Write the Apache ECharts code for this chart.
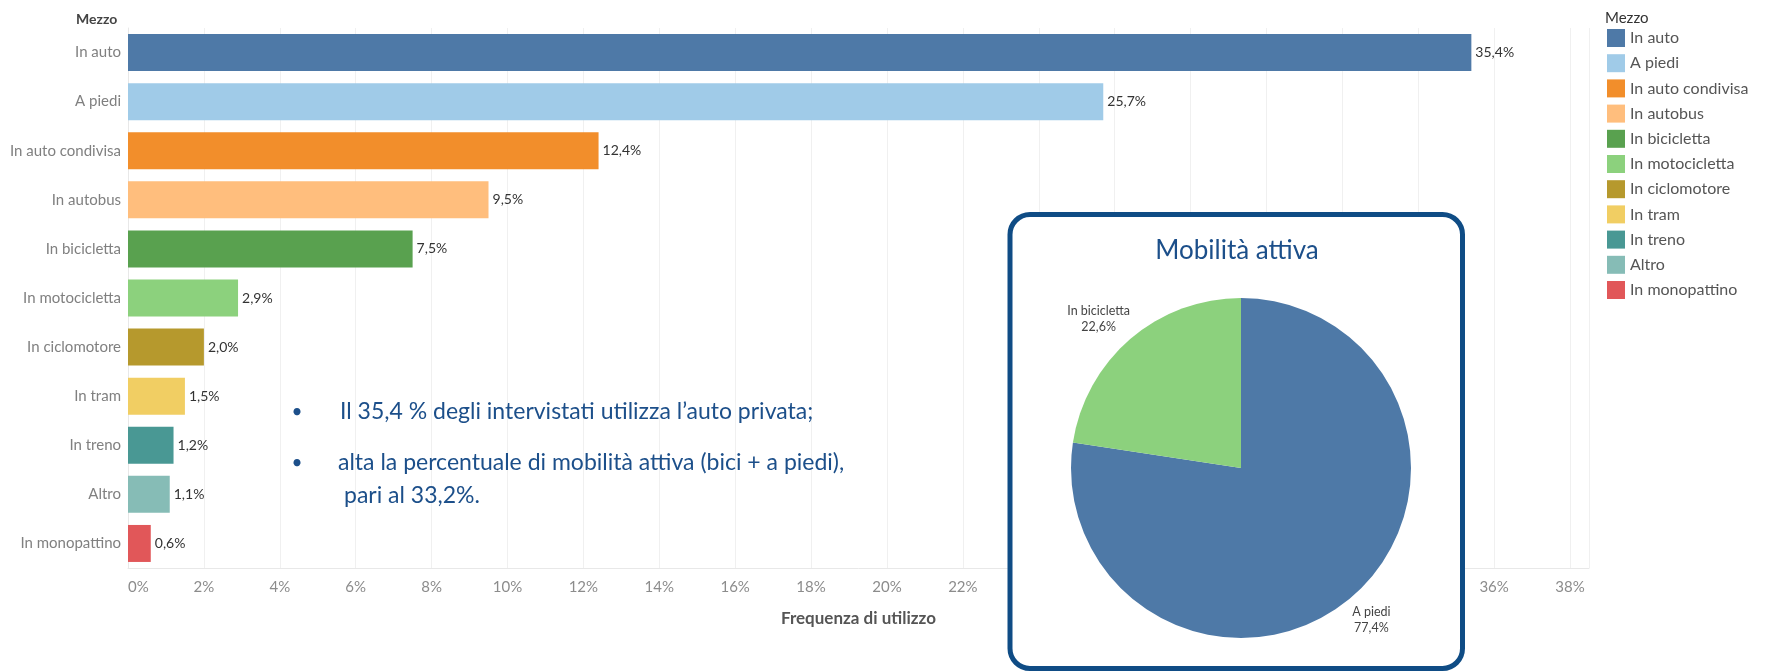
<!DOCTYPE html>
<html>
<head>
<meta charset="utf-8">
<script src="https://cdn.jsdelivr.net/npm/echarts@6/dist/echarts.min.js"></script>
<style>
html,body{margin:0;padding:0;background:#fff;}
#chart{width:1767px;height:672px;}
</style>
</head>
<body>
<div id="chart"></div>
<script>
// ---- data ----
const categories = ['In auto','A piedi','In auto condivisa','In autobus','In bicicletta','In motocicletta','In ciclomotore','In tram','In treno','Altro','In monopattino'];
const values = [35.4, 25.7, 12.4, 9.5, 7.5, 2.9, 2.0, 1.5, 1.2, 1.1, 0.6];
const barColors = ['#4e79a7','#a0cbe8','#f28e2b','#ffbe7d','#59a14f','#8cd17d','#b6992d','#f1ce63','#499894','#86bcb6','#e15759'];
const pieNames = ['A piedi','In bicicletta'];
const pieValues = [77.4, 22.6];
const pieColors = ['#4e79a7','#8cd17d'];
const bulletLines = [
  'Il 35,4 % degli intervistati utilizza l\u2019auto privata;',
  'alta la percentuale di mobilit\u00e0 attiva (bici + a piedi),',
  'pari al 33,2%.'
];

const fmt = v => v.toFixed(1).replace('.', ',') + '%';
const FONT = 'Lato, "Noto Sans", sans-serif';
const NAVY = '#1c4f8a';
const BFONT = '23px ' + FONT;

const barSeries = categories.map((name, i) => ({
  name: name,
  type: 'bar',
  stack: 'total',
  barWidth: 37,
  itemStyle: { color: barColors[i] },
  label: {
    show: true, position: 'right', distance: 4,
    color: '#333', fontSize: 14, fontFamily: FONT,
    formatter: p => (p.value == null ? '' : fmt(p.value))
  },
  emphasis: { disabled: true },
  data: categories.map((c, j) => (j === i ? values[i] : null))
}));

const chart = echarts.init(document.getElementById('chart'), null, { renderer: 'canvas' });
chart.setOption({
  animation: false,
  textStyle: { fontFamily: FONT },
  title: [
    { text: 'Mezzo', left: 76, top: 12, padding: 0, textStyle: { fontSize: 14, fontWeight: 'bold', color: '#444', fontFamily: FONT } },
    { text: 'Mezzo', left: 1605, top: 11, padding: 0, textStyle: { fontSize: 15, fontWeight: 'normal', color: '#333', fontFamily: FONT } },
    { text: 'Mobilit\u00e0 attiva', left: 1237, top: 238, padding: 0, textAlign: 'center', z: 20,
      textStyle: { fontSize: 26, fontWeight: 'normal', color: NAVY, fontFamily: FONT } }
  ],
  legend: {
    orient: 'vertical', left: 1607, top: 29, padding: 0,
    itemWidth: 18, itemHeight: 18, itemGap: 7.2, icon: 'rect',
    selectedMode: false,
    textStyle: { fontSize: 16, color: '#555', fontFamily: FONT },
    data: categories
  },
  grid: { left: 128, right: 178, top: 28, bottom: 104, containLabel: false },
  xAxis: {
    type: 'value', min: 0, max: 38.5, interval: 2,
    name: 'Frequenza di utilizzo', nameLocation: 'middle', nameGap: 42,
    nameTextStyle: { fontSize: 17, fontWeight: 'bold', color: '#555' },
    axisLine: { show: true, lineStyle: { color: '#e8e8e8' } },
    axisTick: { show: false },
    splitLine: { show: true, lineStyle: { color: '#f0f0f0', width: 1 } },
    axisLabel: {
      color: '#8c8c8c', fontSize: 15, margin: 12, alignMinLabel: 'left',
      formatter: v => (Math.abs(v % 2) < 1e-9 ? v + '%' : '')
    }
  },
  yAxis: {
    type: 'category', inverse: true, data: categories,
    axisLine: { show: true, lineStyle: { color: '#e8e8e8' } },
    axisTick: { show: false },
    axisLabel: { color: '#808080', fontSize: 15, margin: 7 }
  },
  graphic: [
    { type: 'rect', z: 5, silent: true,
      shape: { x: 1010, y: 214.5, width: 452.5, height: 454, r: 20 },
      style: { fill: '#ffffff', stroke: '#0f4c85', lineWidth: 5 } },
    { type: 'text', z: 5, x: 297, y: 412, silent: true,
      style: { text: '\u2022', font: '19px ' + FONT, fill: NAVY, align: 'center', verticalAlign: 'middle' } },
    { type: 'text', z: 5, x: 340, y: 412, silent: true,
      style: { text: bulletLines[0], font: BFONT, fill: NAVY, verticalAlign: 'middle' } },
    { type: 'text', z: 5, x: 297, y: 463, silent: true,
      style: { text: '\u2022', font: '19px ' + FONT, fill: NAVY, align: 'center', verticalAlign: 'middle' } },
    { type: 'text', z: 5, x: 338, y: 463, silent: true,
      style: { text: bulletLines[1], font: BFONT, fill: NAVY, verticalAlign: 'middle' } },
    { type: 'text', z: 5, x: 344, y: 496, silent: true,
      style: { text: bulletLines[2], font: BFONT, fill: NAVY, verticalAlign: 'middle' } }
  ],
  series: barSeries.concat([{
    type: 'pie', z: 20, silent: true,
    center: [1241, 468], radius: 170,
    startAngle: 90, clockwise: true,
    data: pieNames.map((n, i) => ({ name: n, value: pieValues[i], itemStyle: { color: pieColors[i] } })),
    label: {
      show: true, position: 'outside', color: '#444', fontSize: 12.5, lineHeight: 16,
      fontFamily: FONT, distanceToLabelLine: 0,
      formatter: p => p.name + '\n' + fmt(p.value)
    },
    labelLine: { show: false, length: 30, length2: 0 },
    labelLayout: p => ({ align: 'center', dx: p.dataIndex === 1 ? -12 : 0, dy: p.dataIndex === 1 ? 3 : 0 }),
    emphasis: { disabled: true }
  }])
});
</script>
</body>
</html>
